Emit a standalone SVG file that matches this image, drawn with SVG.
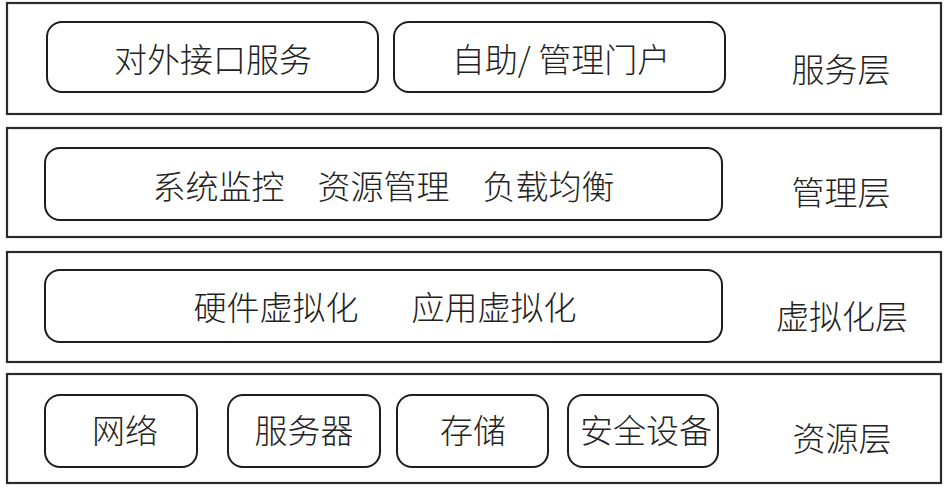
<svg xmlns="http://www.w3.org/2000/svg" width="945" height="492" viewBox="0 0 945 492">
<style>
.layer{fill:#fff;stroke:#2a2a2a;stroke-width:2.2}
.box{fill:#fff;stroke:#1e1e1e;stroke-width:2}
text{font-family:"Noto Sans CJK SC","Noto Sans",sans-serif;font-size:33px;font-weight:300;fill:#222;text-anchor:middle;dominant-baseline:central}
</style>
<rect width="945" height="492" fill="#fff"/>
<g id="service-layer">
<rect class="layer" x="7" y="3" width="934" height="111"/>
<text x="841" y="68">服务层</text>
</g>
<g id="external-api">
<rect class="box" x="47" y="22" width="331" height="70" rx="15"/>
<text x="213" y="58">对外接口服务</text>
</g>
<g id="self-service-portal">
<rect class="box" x="394" y="22" width="331" height="70" rx="15"/>
<text x="561" y="58">自助/ 管理门户</text>
</g>
<g id="management-layer">
<rect class="layer" x="7" y="128" width="934" height="109"/>
<text x="841" y="191">管理层</text>
</g>
<g id="management-box">
<rect class="box" x="45" y="148" width="677" height="72" rx="15"/>
<text x="383.5" y="185">系统监控　资源管理　负载均衡</text>
</g>
<g id="virtualization-layer">
<rect class="layer" x="7" y="252" width="934" height="110"/>
<text x="842" y="315">虚拟化层</text>
</g>
<g id="virtualization-box">
<rect class="box" x="45" y="270" width="677" height="72" rx="15"/>
<text y="306"><tspan x="276">硬件虚拟化</tspan><tspan x="494">应用虚拟化</tspan></text>
</g>
<g id="resource-layer">
<rect class="layer" x="7" y="374" width="934" height="109"/>
<text x="842" y="437">资源层</text>
</g>
<g id="network">
<rect class="box" x="45" y="395" width="152" height="72" rx="15"/>
<text x="125" y="429">网络</text>
</g>
<g id="server">
<rect class="box" x="228" y="395" width="152" height="72" rx="15"/>
<text x="304" y="429">服务器</text>
</g>
<g id="storage">
<rect class="box" x="397" y="395" width="151" height="72" rx="15"/>
<text x="473" y="429">存储</text>
</g>
<g id="security">
<rect class="box" x="568" y="395" width="150" height="72" rx="15"/>
<text x="646" y="429">安全设备</text>
</g>
<g id="connectors"></g>
</svg>
